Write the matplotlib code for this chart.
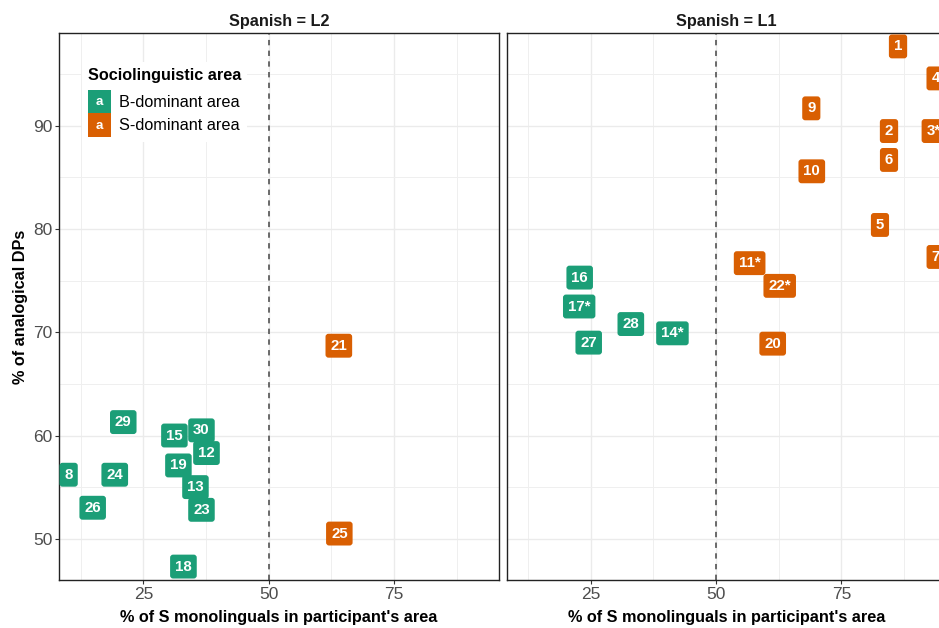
import matplotlib.pyplot as plt
from matplotlib.patches import Patch, Rectangle
from matplotlib.legend_handler import HandlerBase
from matplotlib.text import Text

plt.rcParams['font.family'] = ['Liberation Sans', 'DejaVu Sans']

# Spanish = L2 panel
l2_ids = ['8', '29', '15', '30', '12', '19', '24', '13', '26', '23', '18', '21', '25']
l2_x = [10.1, 21.0, 31.2, 36.6, 37.6, 32.0, 19.3, 35.4, 14.9, 36.6, 33.0, 64.0, 64.1]
l2_y = [56.2, 61.3, 60.0, 60.5, 58.3, 57.1, 56.2, 55.0, 53.0, 52.8, 47.3, 68.7, 50.5]
l2_area = ['B'] * 11 + ['S'] * 2

# Spanish = L1 panel
l1_ids = ['1', '4', '9', '2', '3*', '6', '10', '5', '7', '11*', '22*', '20',
          '16', '17*', '28', '14*', '27']
l1_x = [86.3, 93.8, 69.0, 84.5, 93.4, 84.5, 69.1, 82.7, 93.8, 56.7, 62.7, 61.3,
        22.8, 22.7, 33.0, 41.3, 24.6]
l1_y = [97.7, 94.6, 91.7, 89.5, 89.5, 86.7, 85.6, 80.4, 77.3, 76.7, 74.5, 68.9,
        75.3, 72.5, 70.8, 69.9, 69.0]
l1_area = ['S'] * 12 + ['B'] * 5

colors = {'B': '#1B9E77', 'S': '#D95F02'}
area_names = {'B': 'B-dominant area', 'S': 'S-dominant area'}


class LabelKey(HandlerBase):
    # legend key drawn like a geom_label: coloured square with a white "a"
    def create_artists(self, legend, orig_handle, xdescent, ydescent,
                       width, height, fontsize, trans):
        r = Rectangle((-xdescent, -ydescent), width, height,
                      facecolor=orig_handle.get_facecolor(), edgecolor='none',
                      transform=trans)
        t = Text(-xdescent + width / 2, -ydescent + height / 2 - 0.5, 'a',
                 color='white', fontweight='bold', fontsize=9.5,
                 ha='center', va='center', transform=trans)
        return [r, t]


fig = plt.figure(figsize=(9.39, 6.28), dpi=100)
W, H = 939, 628
bottom = 1 - 580 / H
height = 547 / H
width = 439.7 / W
ax1 = fig.add_axes([59.3 / W, bottom, width, height])
ax2 = fig.add_axes([506.7 / W, bottom, width, height])

panels = [(ax1, 'Spanish = L2', l2_ids, l2_x, l2_y, l2_area),
          (ax2, 'Spanish = L1', l1_ids, l1_x, l1_y, l1_area)]

for ax, title, ids, xs, ys, areas in panels:
    ax.set_xlim(8.24, 95.95)
    ax.set_ylim(46.0, 99.0)
    ax.set_xticks([25, 50, 75])
    ax.set_xticks([12.5, 37.5, 62.5, 87.5], minor=True)
    ax.set_yticks([50, 60, 70, 80, 90])
    ax.set_yticks([55, 65, 75, 85, 95], minor=True)
    ax.grid(True, which='major', color='#EBEBEB', lw=1.0)
    ax.grid(True, which='minor', color='#EFEFEF', lw=0.7)
    ax.set_axisbelow(True)
    ax.tick_params(which='major', length=3, width=0.8, color='#333333',
                   labelsize=12.5, labelcolor='#4D4D4D', pad=1.8)
    ax.tick_params(which='minor', length=0)
    for s in ax.spines.values():
        s.set_color('#222222')
        s.set_linewidth(1.0)
    ax.axvline(50, color='#444444', lw=1.1, ls=(0, (3.5, 3.5)), zorder=1.5)
    ax.set_title(title, fontsize=11.7, fontweight='bold', color='#1A1A1A', pad=5)
    ax.set_xlabel("% of S monolinguals in participant's area", fontsize=11.7,
                  fontweight='bold', labelpad=6)
    for s, x, y, a in zip(ids, xs, ys, areas):
        ax.text(x, y, s, ha='center', va='center', color='white',
                fontweight='bold', fontsize=10.8, clip_on=True, zorder=3,
                bbox=dict(boxstyle='round,pad=0.33,rounding_size=0.2',
                          fc=colors[a], ec='none'))

ax1.set_ylabel('% of analogical DPs', fontsize=11.7, fontweight='bold', labelpad=4)
ax2.tick_params(axis='y', which='both', left=False, labelleft=False)

handles = [Patch(facecolor=colors[k], label=area_names[k]) for k in ['B', 'S']]
leg = ax1.legend(handles=handles, handler_map={Patch: LabelKey()},
                 title='Sociolinguistic area', loc='upper left',
                 bbox_to_anchor=(82 / W, 1 - 62 / H), bbox_transform=fig.transFigure,
                 borderaxespad=0, borderpad=0.35, fontsize=11.7,
                 title_fontproperties={'weight': 'bold', 'size': 11.7},
                 alignment='left', handlelength=1.45, handleheight=1.85,
                 labelspacing=0, handletextpad=0.5, frameon=True, fancybox=False,
                 framealpha=1, facecolor='white', edgecolor='none')
# a little room between the legend title and the keys
leg._legend_box.sep = 5

fig.savefig('out.png', dpi=100)
